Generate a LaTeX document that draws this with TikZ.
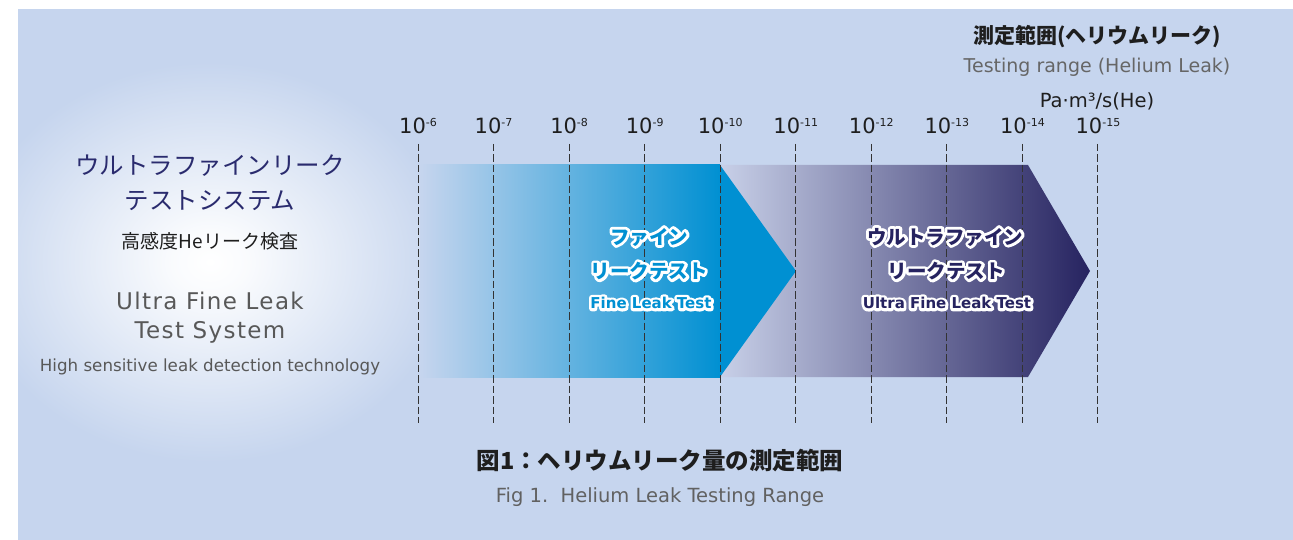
\documentclass[tikz,border=0pt]{standalone}
\usepackage{fontspec}
\setmainfont{DejaVu Sans}
\newfontfamily\jp{Noto Sans CJK JP}
\newfontfamily\lsp{DejaVu Sans}[LetterSpace=6]
\definecolor{bgc}{RGB}{198,213,238}
\definecolor{fineblue}{RGB}{0,144,210}
\definecolor{ultralight}{RGB}{200,208,232}
\definecolor{navy}{RGB}{38,35,96}
\definecolor{titlenavy}{RGB}{42,43,110}
\definecolor{txtgray}{RGB}{88,88,88}
\definecolor{txtdark}{RGB}{30,30,30}
\pgfdeclareradialshading{glow}{\pgfpoint{0bp}{0bp}}{color(0bp)=(white); color(4bp)=(white!90!bgc); color(25bp)=(bgc); color(50bp)=(bgc)}
% white halo drawn with PDF stroke render mode, then the coloured text on top
\newcommand{\halotext}[1]{\leavevmode\rlap{\special{pdf:literal direct q 2 Tr 5.5 w 1 j 1 J}\textcolor{white}{#1}\special{pdf:literal direct Q}}#1}
\tikzset{
  ticklab/.style={font=\fontsize{21}{21}\selectfont, text=txtdark, anchor=base, inner sep=0pt},
  gridline/.style={draw=black!80, line width=1pt, dash pattern=on 7.5pt off 3pt},
  jptitle/.style={font=\jp\fontsize{24.5}{24.5}\selectfont, text=titlenavy, inner sep=0pt},
  jpsub/.style={font=\jp\fontsize{19}{19}\selectfont, text=txtdark, inner sep=0pt},
  entitle/.style={font=\lsp\fontsize{23}{23}\selectfont, text=txtgray, anchor=base, inner sep=0pt},
  ensub/.style={font=\fontsize{16.7}{16.7}\selectfont, text=txtgray, anchor=base, inner sep=0pt},
  fjp/.style={font=\jp\bfseries\fontsize{19.5}{19.5}\selectfont, text=#1, inner sep=0pt},
  fen/.style={font=\bfseries\fontsize{15}{15}\selectfont, text=#1, inner sep=0pt},
}
\begin{document}
\begin{tikzpicture}[x=1pt,y=-1pt]
\useasboundingbox (0,0) rectangle (1293,540);
% background
\fill[bgc] (18,9) rectangle (1293,540);
\begin{scope}
  \clip (18,9) rectangle (1293,540);
  \shade[shading=glow] (210,262) ellipse [x radius=240, y radius=200];
\end{scope}
% ultra fine arrow
\shade[left color=ultralight, right color=navy]
  (720,165) -- (1028,165) -- (1090,271) -- (1028,377) -- (720,377) -- cycle;
% fine arrow
\shade[left color=bgc, right color=fineblue] (420,165) rectangle (720,377);
\fill[fineblue] (720,165) -- (796,271) -- (720,377) -- cycle;
% grid lines and tick labels
\foreach \e [count=\i from 0] in {6,7,8,9,10,11,12,13,14,15} {
  \coordinate (t\e) at (418+75.55*\i,144);
  \coordinate (b\e) at (418+75.55*\i,423);
  \draw[gridline] (t\e) -- (b\e);
  \node[ticklab] (l\e) at (418+75.55*\i,134) {10\raisebox{7pt}{\fontsize{11}{11}\selectfont -\e}};
}
% left block
\node[jptitle] (jt1) at (210,166) {ウルトラファインリーク};
\node[jptitle] (jt2) at (210,201) {テストシステム};
\node[jpsub] (jsub) at (210,241) {高感度Heリーク検査};
\node[entitle] (et1) at (210,309) {Ultra Fine Leak};
\node[entitle] (et2) at (210,338) {Test System};
\node[ensub] (esub) at (210,371) {High sensitive leak detection technology};
% top right
\node[font=\jp\bfseries\fontsize{21}{21}\selectfont, text=txtdark, inner sep=0pt] (rt1) at (1097,37) {測定範囲(ヘリウムリーク)};
\node[font=\fontsize{19}{19}\selectfont, text=black!60, anchor=base, inner sep=0pt] (rt2) at (1097,73) {Testing range (Helium Leak)};
\node[font=\fontsize{19.5}{19.5}\selectfont, text=txtdark, anchor=base, inner sep=0pt] (rt3) at (1097,108) {Pa·m³/s(He)};
% arrow labels
\node[fjp=fineblue] (f1) at (649,237) {\halotext{ファイン}};
\node[fjp=fineblue] (f2) at (649,271) {\halotext{リークテスト}};
\node[fen=fineblue] (f3) at (651,303) {\halotext{Fine Leak Test}};
\node[fjp=navy] (u1) at (945,237) {\halotext{ウルトラファイン}};
\node[fjp=navy] (u2) at (946,271) {\halotext{リークテスト}};
\node[fen=navy] (u3) at (947,303) {\halotext{Ultra Fine Leak Test}};
% caption
\node[font=\jp\bfseries\fontsize{23.5}{23.5}\selectfont, text=txtdark, inner sep=0pt] (cap1) at (660,461) {図1：ヘリウムリーク量の測定範囲};
\node[font=\fontsize{19.5}{19.5}\selectfont, text=black!62, anchor=base, inner sep=0pt] (cap2) at (660,502) {Fig 1.~~Helium Leak Testing Range};
\end{tikzpicture}
\end{document}
